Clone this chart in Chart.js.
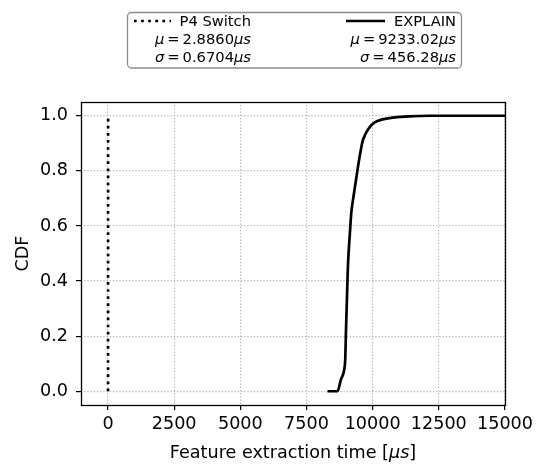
<!DOCTYPE html>
<html><head><meta charset="utf-8">
<script src="https://cdn.jsdelivr.net/npm/chart.js@4/dist/chart.umd.min.js"></script>
<style>html,body{margin:0;padding:0;background:#fff}#wrap{width:537px;height:464px}</style>
</head><body><div id="wrap"><canvas id="c" width="537" height="464"></canvas></div>
<script>
// ---- data ----
const xTicks = [0, 2500, 5000, 7500, 10000, 12500, 15000];
const yTicks = [0.0, 0.2, 0.4, 0.6, 0.8, 1.0];
const p4Time = [2.0, 2.5, 2.9, 3.3, 5.0];
const p4Cdf  = [0.0, 0.2, 0.5, 0.8, 1.0];
const explainTime = [8293, 8672, 8800, 8925, 8963, 8990, 9027, 9065, 9141, 9193, 9250, 9307, 9420, 9523, 9621, 9723, 9875, 10064, 10379, 10758, 11390, 12148, 15000, 20460];
const explainCdf  = [0.0, 0.0, 0.042, 0.078, 0.115, 0.212, 0.333, 0.454, 0.575, 0.648, 0.690, 0.727, 0.799, 0.860, 0.908, 0.933, 0.957, 0.975, 0.987, 0.993, 0.998, 1.0, 1.0, 1.0];
const seriesNames = ['P4 Switch', 'EXPLAIN'];
const p4Stats = ['2.8860', '0.6704'];
const explainStats = ['9233.02', '456.28'];
const xTitle = ['Feature extraction time [', 'μs', ']'];
const yTitle = 'CDF';

const FONT = "'DejaVu Sans'";
const TICK_SIZE = 17.6;
const LEG_SIZE = 14.7;
const LW = 2.7;
const DOT = [2.7, 4.4];

function drawSegs(ctx, segs, size, anchorX, baseY, align) {
  let total = 0;
  const widths = segs.map(s => {
    ctx.font = (s.it ? 'oblique ' : '') + size + 'px ' + FONT;
    const w = ctx.measureText(s.t).width;
    total += w + (s.gap || 0);
    return w;
  });
  let x = align === 'right' ? anchorX - total : (align === 'center' ? anchorX - total / 2 : anchorX);
  ctx.textAlign = 'left';
  ctx.textBaseline = 'alphabetic';
  segs.forEach((s, i) => {
    ctx.font = (s.it ? 'oblique ' : '') + size + 'px ' + FONT;
    ctx.fillText(s.t, x, baseY);
    x += widths[i] + (s.gap || 0);
  });
}

const decor = {
  id: 'decor',
  afterDraw(chart) {
    const ctx = chart.ctx;
    const a = chart.chartArea;
    ctx.save();
    // frame
    ctx.strokeStyle = '#000';
    ctx.lineWidth = 1.3;
    ctx.setLineDash([]);
    ctx.strokeRect(Math.round(a.left) + 0.5, Math.round(a.top) + 0.5, Math.round(a.right - a.left), Math.round(a.bottom - a.top));
    ctx.fillStyle = '#000';
    // x title
    drawSegs(ctx, [{t: xTitle[0]}, {t: xTitle[1], it: true}, {t: xTitle[2]}], TICK_SIZE, (a.left + a.right) / 2, 457.5, 'center');
    // y title
    ctx.save();
    ctx.translate(27.8, (a.top + a.bottom) / 2);
    ctx.rotate(-Math.PI / 2);
    ctx.font = TICK_SIZE + 'px ' + FONT;
    ctx.textAlign = 'center';
    ctx.textBaseline = 'alphabetic';
    ctx.fillText(yTitle, 0, 0);
    ctx.restore();
    // legend box
    ctx.beginPath();
    ctx.lineWidth = 1.3;
    ctx.strokeStyle = '#8c8c8c';
    ctx.roundRect(127.5, 12.5, 334, 55.5, 4);
    ctx.fillStyle = '#fff';
    ctx.fill();
    ctx.stroke();
    // handles
    ctx.strokeStyle = '#000';
    ctx.lineWidth = LW;
    ctx.setLineDash(DOT);
    ctx.beginPath(); ctx.moveTo(134, 21); ctx.lineTo(171, 21); ctx.stroke();
    ctx.setLineDash([]);
    ctx.beginPath(); ctx.moveTo(346, 21); ctx.lineTo(385, 21); ctx.stroke();
    ctx.fillStyle = '#000';
    const cols = [{r: 251, name: seriesNames[0], st: p4Stats}, {r: 456, name: seriesNames[1], st: explainStats}];
    cols.forEach(c => {
      drawSegs(ctx, [{t: c.name}], LEG_SIZE, c.r, 26, 'right');
      drawSegs(ctx, [{t: 'μ', it: true, gap: 3}, {t: '=', gap: 3}, {t: c.st[0]}, {t: 'μs', it: true}], LEG_SIZE, c.r, 44, 'right');
      drawSegs(ctx, [{t: 'σ', it: true, gap: 3}, {t: '=', gap: 3}, {t: c.st[1]}, {t: 'μs', it: true}], LEG_SIZE, c.r, 62, 'right');
    });
    ctx.restore();
  }
};

new Chart(document.getElementById('c'), {
  type: 'scatter',
  data: {
    datasets: [
      {label: seriesNames[0], data: p4Time.map((x, i) => ({x, y: p4Cdf[i]})), showLine: true, borderColor: '#000', backgroundColor: '#000', borderWidth: LW, borderDash: DOT, pointRadius: 0, tension: 0},
      {label: seriesNames[1], data: explainTime.map((x, i) => ({x, y: explainCdf[i]})), showLine: true, borderColor: '#000', backgroundColor: '#000', borderWidth: LW, pointRadius: 0, cubicInterpolationMode: 'monotone', borderJoinStyle: 'round'}
    ]
  },
  options: {
    responsive: false,
    animation: false,
    devicePixelRatio: 1,
    layout: {padding: {left: 0, right: 32, top: 102, bottom: 0}},
    plugins: {legend: {display: false}, tooltip: {enabled: false}},
    scales: {
      x: {
        type: 'linear', min: -1020, max: 15000,
        afterBuildTicks: s => { s.ticks = xTicks.map(v => ({value: v})); },
        afterFit: s => { s.height = 59; s.paddingLeft = 0; s.paddingRight = 0; },
        grid: {color: '#b0b0b0', lineWidth: 1.2, tickColor: '#000', tickLength: 5, tickWidth: 1.2, tickBorderDash: []},
        border: {display: false, dash: [1.2, 2]},
        ticks: {color: '#000', font: {family: 'DejaVu Sans', size: TICK_SIZE}, padding: 4, maxRotation: 0, autoSkip: false, callback: v => String(v)}
      },
      y: {
        type: 'linear', min: -0.05, max: 1.05,
        afterBuildTicks: s => { s.ticks = yTicks.map(v => ({value: v})); },
        afterFit: s => { s.width = 81; s.paddingTop = 0; s.paddingBottom = 0; },
        grid: {color: '#b0b0b0', lineWidth: 1.2, tickColor: '#000', tickLength: 5, tickWidth: 1.2, tickBorderDash: []},
        border: {display: false, dash: [1.2, 2]},
        ticks: {color: '#000', font: {family: 'DejaVu Sans', size: TICK_SIZE}, padding: 8, autoSkip: false, callback: v => v.toFixed(1)}
      }
    }
  },
  plugins: [decor]
});
</script>
</body></html>
